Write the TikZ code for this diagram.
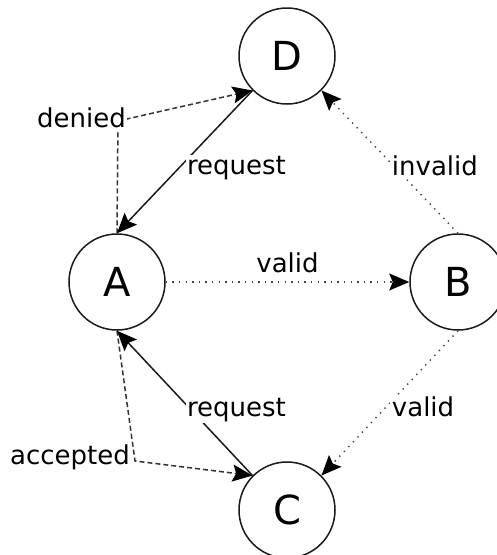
\documentclass[tikz,border=0pt]{standalone}
\usepackage{fontspec}
\setmainfont{DejaVu Sans}
\usetikzlibrary{arrows.meta}
\definecolor{edgecol}{HTML}{1A1A1A}
\definecolor{dashcol}{HTML}{333333}
\definecolor{dotcol}{HTML}{444444}
\begin{document}
\begin{tikzpicture}[x=1pt,y=-1pt,
  state/.style={circle, draw=edgecol, line width=1.5pt, minimum size=96pt, inner sep=0pt, font=\fontsize{40}{44}\selectfont},
  tipend/.style={-{Stealth[length=20pt,width=17pt,inset=3.5pt,fill=black,color=black]}},
  solidedge/.style={tipend, draw=edgecol, line width=1.5pt},
  dashededge/.style={tipend, draw=dashcol, line width=1.5pt, dash pattern=on 5pt off 3pt},
  dottededge/.style={tipend, draw=dotcol, line width=1.4pt, dash pattern=on 1.4pt off 5.2pt},
  lbl/.style={font=\fontsize{26}{30}\selectfont, fill=white, inner sep=1.5pt, text=black}]
\useasboundingbox (0,0) rectangle (497,555);
\clip (0,0) rectangle (497,555);
\fill[white] (0,0) rectangle (497,555);
\node[state] (D) at (287,56) {D};
\node[state] (A) at (117,282) {A};
\node[state] (B) at (458,282) {B};
\node[state] (C) at (287,510) {C};
\coordinate (bd) at (118,121);
\coordinate (ba) at (135,461);
\draw[dashededge] (A.north) -- (bd) -- (D.south west);
\draw[dashededge] (A.south) -- (ba) -- (C.north west);
\draw[solidedge] (D.south west) -- (A.north)
  node[lbl, midway, anchor=west, yshift=-6pt] (lreqd) {request};
\draw[solidedge] (C.north west) -- (A.south)
  node[lbl, midway, anchor=west, yshift=-7pt] (lreqc) {request};
\draw[dottededge] (A.east) -- (B.west)
  node[lbl, midway, anchor=south, yshift=7pt] (lvalidab) {valid};
\draw[dottededge] (B.north) -- (D.south east)
  node[lbl, midway, anchor=west, yshift=-4pt] (linvalid) {invalid};
\draw[dottededge] (B.south) -- (C.north east)
  node[lbl, midway, anchor=west, yshift=-4pt] (lvalidbc) {valid};
\node[lbl] (ldenied) at (81.5,118) {denied};
\node[lbl] (laccepted) at (70,457) {accepted};
\end{tikzpicture}
\end{document}
